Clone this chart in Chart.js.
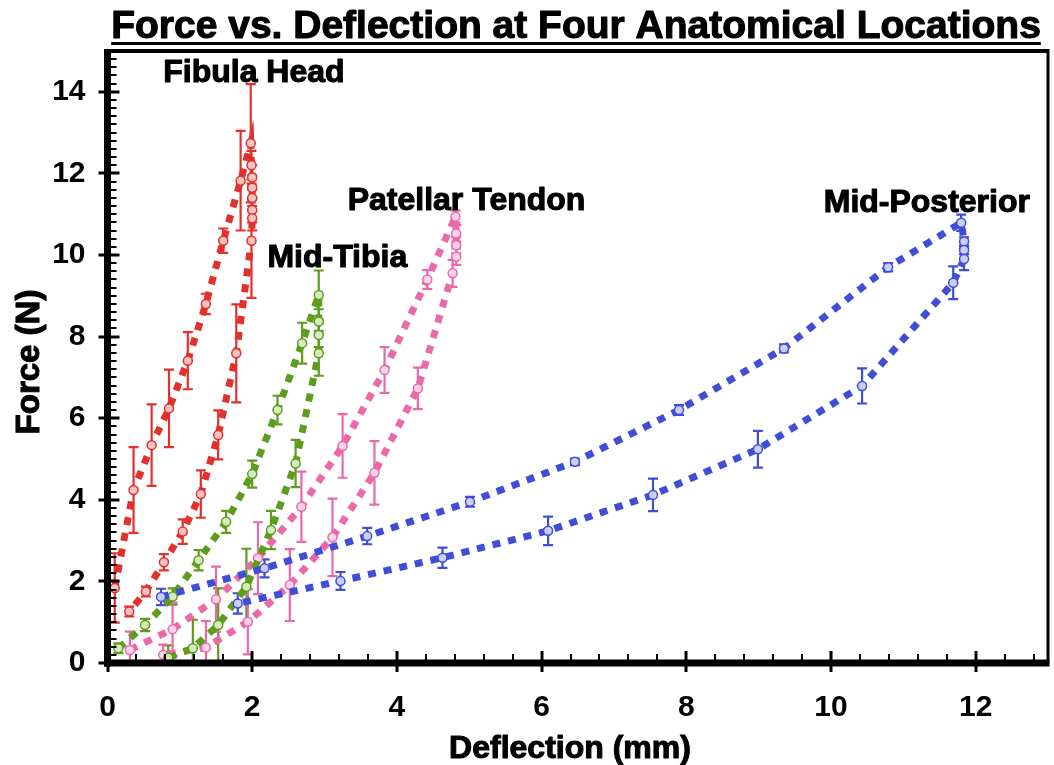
<!DOCTYPE html>
<html>
<head>
<meta charset="utf-8">
<script src="https://cdn.jsdelivr.net/npm/chart.js@4.4.1/dist/chart.umd.min.js"></script>
<style>
  html, body { margin: 0; padding: 0; background: #ffffff; }
  #wrap { width: 1054px; height: 765px; }
</style>
</head>
<body>
<div id="wrap"><canvas id="c" width="1054" height="765"></canvas></div>
<script>
// ---- Data ----
const titleText = "Force vs. Deflection at Four Anatomical Locations";
const xAxisTitle = "Deflection (mm)";
const yAxisTitle = "Force (N)";
const xTicks = [0, 2, 4, 6, 8, 10, 12];
const yTicks = [0, 2, 4, 6, 8, 10, 12, 14];
const seriesNames = ["Fibula Head", "Mid-Tibia", "Patellar Tendon", "Mid-Posterior"];

// Fibula Head (red)
const fibulaX   = [0.10, 0.36, 0.61, 0.85, 1.11, 1.36, 1.60, 1.84, 1.98, 1.99, 2.00, 2.00, 2.00, 2.00, 2.00, 1.99, 1.78, 1.53, 1.29, 1.04, 0.78, 0.53, 0.30];
const fibulaY   = [1.84, 4.24, 5.34, 6.24, 7.41, 8.80, 10.35, 11.82, 12.74, 12.20, 11.90, 11.65, 11.40, 11.10, 10.90, 10.35, 7.59, 5.59, 4.14, 3.22, 2.47, 1.75, 1.26];
const fibulaErr = [0.85, 1.05, 1.00, 0.95, 0.70, 0.25, 0.30, 1.22, 1.45, 0.35, 0.30, 0.30, 0.30, 0.30, 0.30, 1.40, 1.20, 0.60, 0.58, 0.30, 0.20, 0.12, 0.12];

// Mid-Tibia (green)
const tibiaX   = [0.15, 0.52, 0.90, 1.26, 1.64, 2.00, 2.35, 2.69, 2.92, 2.92, 2.92, 2.92, 2.60, 2.26, 1.92, 1.53, 1.18, 0.84];
const tibiaY   = [0.36, 0.93, 1.63, 2.52, 3.46, 4.63, 6.20, 7.84, 9.02, 8.37, 8.04, 7.59, 4.89, 3.26, 1.87, 0.93, 0.36, 0.13];
const tibiaErr = [0.12, 0.15, 0.20, 0.25, 0.27, 0.33, 0.35, 0.50, 0.60, 0.30, 0.30, 0.55, 0.58, 0.47, 0.93, 0.90, 0.70, 0.30];

// Patellar Tendon (pink)
const patellarX   = [0.31, 0.90, 1.50, 2.08, 2.68, 3.25, 3.83, 4.42, 4.81, 4.82, 4.82, 4.82, 4.77, 4.29, 3.69, 3.11, 2.52, 1.94, 1.36, 0.77];
const patellarY   = [0.32, 0.83, 1.56, 2.57, 3.83, 5.32, 7.18, 9.40, 10.94, 10.53, 10.24, 9.96, 9.55, 6.73, 4.66, 3.08, 1.91, 1.01, 0.38, 0.20];
const patellarErr = [0.45, 0.65, 0.80, 0.88, 0.86, 0.78, 0.56, 0.23, 0.15, 0.20, 0.20, 0.20, 0.33, 0.51, 0.78, 0.95, 0.88, 0.80, 0.65, 0.25];

// Mid-Posterior (blue)
const posteriorX   = [0.74, 2.17, 3.59, 5.01, 6.46, 7.90, 9.35, 10.79, 11.80, 11.84, 11.84, 11.84, 11.69, 10.43, 8.99, 7.54, 6.09, 4.63, 3.22, 1.80];
const posteriorY   = [1.62, 2.32, 3.11, 3.95, 4.93, 6.20, 7.71, 9.70, 10.79, 10.33, 10.12, 9.90, 9.32, 6.79, 5.24, 4.12, 3.24, 2.58, 2.01, 1.46];
const posteriorErr = [0.20, 0.22, 0.20, 0.12, 0.08, 0.12, 0.10, 0.10, 0.20, 0.10, 0.10, 0.27, 0.40, 0.43, 0.45, 0.40, 0.35, 0.25, 0.22, 0.25];

// ---- Styles ----
const FONT = "'Liberation Sans', Arial, Helvetica, sans-serif";
const colors = { red: '#e2302d', green: '#5e9c1e', pink: '#ea6aa8', blue: '#3f4ed6' };
const fills  = { red: '#f6c4c0', green: '#d6ebbf', pink: '#f9d3ea', blue: '#c9cff5' };

function makeDataset(label, xs, ys, errs, color, fill) {
  return {
    label: label,
    data: xs.map((x, i) => ({ x: x, y: ys[i] })),
    errors: errs,
    showLine: true,
    borderColor: color,
    borderWidth: 7,
    borderDash: [8, 8],
    borderCapStyle: 'butt',
    tension: 0,
    pointRadius: 4.5,
    pointHoverRadius: 4.5,
    pointBackgroundColor: fill,
    pointBorderColor: color,
    pointBorderWidth: 1.5,
    clip: false
  };
}

const datasets = [
  makeDataset(seriesNames[3], posteriorX, posteriorY, posteriorErr, colors.blue, fills.blue),
  makeDataset(seriesNames[1], tibiaX, tibiaY, tibiaErr, colors.green, fills.green),
  makeDataset(seriesNames[0], fibulaX, fibulaY, fibulaErr, colors.red, fills.red),
  makeDataset(seriesNames[2], patellarX, patellarY, patellarErr, colors.pink, fills.pink)
];

// Error bars drawn through the chart's scales
const errorBarPlugin = {
  id: 'errorBars',
  beforeDatasetsDraw(chart) {
    const ctx = chart.ctx, xs = chart.scales.x, ys = chart.scales.y, a = chart.chartArea;
    ctx.save();
    ctx.beginPath();
    ctx.rect(a.left, a.top, a.right - a.left, a.bottom - a.top);
    ctx.clip();
    chart.data.datasets.forEach((ds) => {
      ctx.strokeStyle = ds.borderColor;
      ctx.lineWidth = 2.2;
      ds.data.forEach((p, i) => {
        const e = ds.errors[i];
        const px = xs.getPixelForValue(p.x);
        const yt = ys.getPixelForValue(p.y + e);
        const yb = ys.getPixelForValue(p.y - e);
        ctx.beginPath();
        ctx.moveTo(px, yt); ctx.lineTo(px, yb);
        ctx.moveTo(px - 5, yt); ctx.lineTo(px + 5, yt);
        ctx.moveTo(px - 5, yb); ctx.lineTo(px + 5, yb);
        ctx.stroke();
      });
    });
    ctx.restore();
  }
};

function boldText(ctx, text, x, y, maxW) {
  ctx.lineWidth = 1.1;
  ctx.lineJoin = 'round';
  if (maxW) { ctx.fillText(text, x, y, maxW); ctx.strokeText(text, x, y, maxW); }
  else { ctx.fillText(text, x, y); ctx.strokeText(text, x, y); }
}

// Frame, inward ticks, titles and series labels
const framePlugin = {
  id: 'frame',
  afterDatasetsDraw(chart) {
    const ctx = chart.ctx, a = chart.chartArea, xs = chart.scales.x, ys = chart.scales.y;
    ctx.save();
    ctx.strokeStyle = '#000';
    ctx.lineCap = 'butt';
    // top & right borders
    ctx.lineWidth = 4;
    ctx.beginPath(); ctx.moveTo(a.left, a.top); ctx.lineTo(a.right + 1, a.top); ctx.stroke();
    ctx.lineWidth = 3;
    ctx.beginPath(); ctx.moveTo(a.right, a.top - 2); ctx.lineTo(a.right, a.bottom); ctx.stroke();
    // minor ticks
    ctx.lineWidth = 2;
    for (let v = 0; v <= 15.001; v += 0.2) {
      const py = Math.round(ys.getPixelForValue(v));
      ctx.beginPath(); ctx.moveTo(a.left, py); ctx.lineTo(a.left + 9, py); ctx.stroke();
    }
    for (let v = 0; v <= 13.001; v += 0.4) {
      const px = Math.round(xs.getPixelForValue(v));
      ctx.beginPath(); ctx.moveTo(px, a.bottom); ctx.lineTo(px, a.bottom - 9); ctx.stroke();
    }
    // major ticks
    ctx.lineWidth = 3;
    yTicks.forEach(v => {
      const py = Math.round(ys.getPixelForValue(v));
      ctx.beginPath(); ctx.moveTo(a.left - 9, py); ctx.lineTo(a.left + 12, py); ctx.stroke();
    });
    xTicks.forEach(v => {
      const px = Math.round(xs.getPixelForValue(v));
      ctx.beginPath(); ctx.moveTo(px, a.bottom - 12); ctx.lineTo(px, a.bottom + 9); ctx.stroke();
    });
    // left & bottom axis lines (thick)
    ctx.lineWidth = 7;
    ctx.beginPath(); ctx.moveTo(a.left, a.top - 2); ctx.lineTo(a.left, a.bottom + 3.5); ctx.stroke();
    ctx.beginPath(); ctx.moveTo(a.left - 3.5, a.bottom); ctx.lineTo(a.right + 1.5, a.bottom); ctx.stroke();

    // series labels placed in data coordinates
    ctx.fillStyle = '#000';
    ctx.font = "bold 32px " + FONT;
    ctx.textAlign = 'left';
    ctx.textBaseline = 'alphabetic';
    const labelPos = [[0.77, 14.24], [2.21, 9.71], [3.32, 11.10], [9.90, 11.05]];
    seriesNames.forEach((t, i) => {
      boldText(ctx, t, xs.getPixelForValue(labelPos[i][0]), ys.getPixelForValue(labelPos[i][1]));
    });

    // main title with underline
    ctx.font = "bold 39px " + FONT;
    ctx.textAlign = 'center';
    const cx = 576;
    boldText(ctx, titleText, cx, 38, 936);
    const w = Math.min(ctx.measureText(titleText).width, 936);
    ctx.lineWidth = 3;
    ctx.beginPath(); ctx.moveTo(cx - w / 2, 43.5); ctx.lineTo(cx + w / 2, 43.5); ctx.stroke();

    // axis titles
    ctx.font = "bold 32px " + FONT;
    ctx.textAlign = 'center';
    boldText(ctx, xAxisTitle, 570, 758);
    ctx.save();
    ctx.translate(39, 362);
    ctx.rotate(-Math.PI / 2);
    ctx.font = "bold 33px " + FONT;
    boldText(ctx, yAxisTitle, 0, 0);
    ctx.restore();
    ctx.restore();
  }
};

new Chart(document.getElementById('c'), {
  type: 'scatter',
  data: { datasets: datasets },
  options: {
    responsive: false,
    devicePixelRatio: 1,
    animation: false,
    layout: { padding: { top: 51, right: 5, left: 0, bottom: 0 } },
    plugins: { legend: { display: false }, tooltip: { enabled: false }, title: { display: false } },
    scales: {
      x: {
        type: 'linear', min: 0, max: 13,
        afterFit: (s) => { s.height = 102; },
        afterBuildTicks: (s) => { s.ticks = xTicks.map(v => ({ value: v })); },
        grid: { display: false, drawTicks: false },
        border: { display: false },
        ticks: { color: '#000', padding: 27, maxRotation: 0, font: { family: FONT, size: 30, weight: 'bold' } }
      },
      y: {
        type: 'linear', min: 0, max: 15,
        afterFit: (s) => { s.width = 107.5; },
        afterBuildTicks: (s) => { s.ticks = yTicks.map(v => ({ value: v })); },
        grid: { display: false, drawTicks: false },
        border: { display: false },
        ticks: { color: '#000', padding: 22, font: { family: FONT, size: 30, weight: 'bold' } }
      }
    }
  },
  plugins: [errorBarPlugin, framePlugin]
});
</script>
</body>
</html>
